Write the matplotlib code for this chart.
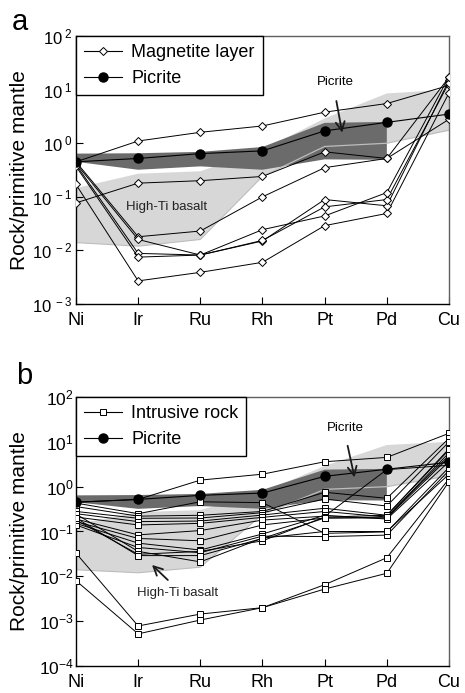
import numpy as np
import matplotlib
matplotlib.use('Agg')
import matplotlib.pyplot as plt
from matplotlib.ticker import FixedLocator, FuncFormatter, NullLocator
from matplotlib.lines import Line2D

plt.rcParams['font.family'] = ['Liberation Sans', 'DejaVu Sans']
plt.rcParams['mathtext.fontset'] = 'custom'
plt.rcParams['mathtext.rm'] = 'Liberation Sans'
plt.rcParams['mathtext.it'] = 'Liberation Sans'
plt.rcParams['axes.unicode_minus'] = False

elements = ['Ni', 'Ir', 'Ru', 'Rh', 'Pt', 'Pd', 'Cu']

# Picrite average (same in both panels)
picrite = [0.45, 0.52, 0.64, 0.72, 1.7, 2.45, 3.5]

# Picrite field (dark band, Ni..Pd)
picrite_hi = [0.64, 0.65, 0.69, 0.85, 2.4, 2.5]
picrite_lo = [0.45, 0.32, 0.37, 0.32, 0.5, 0.49]

# High-Ti basalt field (light band)
basalt_hi = [0.145, 0.27, 0.3, 0.75, 2.9, 8.5, 10.0]
basalt_lo = [0.014, 0.012, 0.016, 0.24, 0.87, 1.0, 1.75]

# Magnetite layer samples
magnetite = [
    [0.45, 1.1, 1.6, 2.1, 3.8, 5.5, 12.0],
    [0.077, 0.18, 0.2, 0.24, 0.69, 0.52, 2.8],
    [0.45, 0.018, 0.023, 0.1, 0.35, 0.52, 17.0],
    [0.17, 0.0027, 0.0039, 0.006, 0.029, 0.049, 8.7],
    [0.42, 0.016, 0.0082, 0.015, 0.089, 0.068, 15.0],
    [0.40, 0.0088, 0.0082, 0.0154, 0.065, 0.089, 13.5],
    [0.37, 0.0075, 0.0082, 0.0244, 0.044, 0.12, 17.5],
]

# Intrusive rock samples
intrusive = [
    [0.45, 0.52, 1.4, 1.9, 3.6, 4.5, 15.5],
    [0.43, 0.25, 0.46, 0.44, 0.091, 0.098, 2.7],
    [0.36, 0.22, 0.23, 0.28, 0.75, 0.55, 12.0],
    [0.28, 0.197, 0.2, 0.263, 0.53, 0.37, 10.0],
    [0.25, 0.166, 0.171, 0.233, 0.33, 0.23, 6.6],
    [0.21, 0.14, 0.152, 0.207, 0.28, 0.21, 5.7],
    [0.19, 0.084, 0.105, 0.18, 0.22, 2.4, 3.0],
    [0.166, 0.07, 0.062, 0.14, 0.2, 0.2, 4.5],
    [0.152, 0.055, 0.0386, 0.088, 0.23, 0.19, 3.6],
    [0.14, 0.044, 0.0336, 0.079, 0.077, 0.083, 2.3],
    [0.245, 0.036, 0.021, 0.071, 0.1, 0.1, 1.9],
    [0.18, 0.031, 0.036, 0.062, 0.21, 0.23, 7.0],
    [0.2, 0.029, 0.029, 0.07, 0.2, 0.21, 5.0],
    [0.033, 0.00078, 0.00144, 0.002, 0.0065, 0.026, 1.5],
    [0.008, 0.00052, 0.00106, 0.002, 0.0052, 0.0117, 1.3],
]

x = np.arange(len(elements))

fig = plt.figure(figsize=(4.65, 6.93), dpi=100)
ax_a = fig.add_axes([0.1634, 0.5613, 0.8022, 0.3867])
ax_b = fig.add_axes([0.1634, 0.0390, 0.8022, 0.3881])


def draw_fields(ax):
    # high-Ti basalt field
    ax.fill(np.r_[x, x[::-1]], np.r_[basalt_hi, basalt_lo[::-1]],
            color='#d7d7d7', lw=0, zorder=1)
    # picrite field
    xp = x[:6]
    ax.fill(np.r_[xp, xp[::-1]], np.r_[picrite_hi, picrite_lo[::-1]],
            color='#6b6b6b', lw=0, zorder=2)
    # lower edge of the basalt field shows through the dark band
    ax.plot(x[3:], basalt_lo[3:], color='#bdbdbd', lw=0.9, zorder=2.5)
    ax.plot(x[:4], basalt_lo[:4], color='#bdbdbd', lw=0.8, zorder=1.5)


def style_axes(ax, ymin, spaced):
    ax.set_yscale('log')
    ax.set_xlim(0, 6)
    ax.set_ylim(10.0 ** ymin, 100)
    ax.set_xticks(x)
    ax.set_xticklabels(elements, fontsize=13)
    decades = [10.0 ** k for k in range(ymin, 3)]
    ax.yaxis.set_major_locator(FixedLocator(decades))
    ax.yaxis.set_minor_locator(NullLocator())
    if spaced:
        fmt = lambda v, p: r'$\mathregular{10^{\ %d}}$' % round(np.log10(v))
        ysize, ypad = 12, 2.5
    else:
        fmt = lambda v, p: r'$\mathregular{10^{%d}}$' % round(np.log10(v))
        ysize, ypad = 12.5, 1.5
    ax.yaxis.set_major_formatter(FuncFormatter(fmt))
    ax.tick_params(axis='y', direction='in', length=5, width=0.8,
                   labelsize=ysize, pad=ypad)
    ax.tick_params(axis='x', direction='in', length=5, width=0.8, pad=6)
    ax.set_ylabel('Rock/primitive mantle', fontsize=15)
    ax.yaxis.set_label_coords(-0.127, 0.5)
    for s in ['left', 'bottom']:
        ax.spines[s].set_color('black')
        ax.spines[s].set_linewidth(1.0)
    for s in ['top', 'right']:
        ax.spines[s].set_color('#606060')
        ax.spines[s].set_linewidth(1.0)


def draw_picrite(ax):
    ax.plot(x, picrite, color='black', lw=0.8, marker='o', ms=6.5,
            mfc='black', mec='black', zorder=5)


def add_legend(ax, handles, labels):
    leg = ax.legend(handles, labels, loc='upper left', fontsize=13,
                    borderaxespad=0, handlelength=2.1, handletextpad=0.5,
                    labelspacing=0.5, borderpad=0.45, fancybox=False,
                    framealpha=1, edgecolor='black')
    leg.get_frame().set_linewidth(1.0)
    leg.set_zorder(10)


# ---- panel a: magnetite layer ----
draw_fields(ax_a)
for s in magnetite:
    ax_a.plot(x, s, color='black', lw=0.7, marker='D', ms=4.5,
              mfc='white', mec='black', mew=0.7, zorder=4)
draw_picrite(ax_a)
style_axes(ax_a, -3, True)

ax_a.text(4.17, 13.8, 'Picrite', fontsize=9.5, ha='center', va='center')
ax_a.annotate('', xy=(4.29, 1.4), xytext=(4.18, 6.9),
              arrowprops=dict(arrowstyle='->', lw=1.3, mutation_scale=16,
                              color='#1a1a1a'), zorder=6)
ax_a.text(1.45, 0.064, 'High-Ti basalt', fontsize=9.5, ha='center',
          va='center', color='#222222', zorder=3)

h_mag = Line2D([], [], color='black', lw=0.8, marker='D', ms=4.5,
               mfc='white', mec='black', mew=0.7)
h_pic = Line2D([], [], color='black', lw=0.8, marker='o', ms=6.5,
               mfc='black', mec='black')
add_legend(ax_a, [h_mag, h_pic], ['Magnetite layer', 'Picrite'])

# ---- panel b: intrusive rock ----
draw_fields(ax_b)
for s in intrusive:
    ax_b.plot(x, s, color='black', lw=0.7, marker='s', ms=4.5,
              mfc='white', mec='black', mew=0.7, zorder=4)
draw_picrite(ax_b)
style_axes(ax_b, -4, False)

ax_b.text(4.33, 20.4, 'Picrite', fontsize=9.5, ha='center', va='center')
ax_b.annotate('', xy=(4.49, 1.4), xytext=(4.36, 9.4),
              arrowprops=dict(arrowstyle='->', lw=1.3, mutation_scale=16,
                              color='#1a1a1a'), zorder=6)
ax_b.text(1.64, 0.0042, 'High-Ti basalt', fontsize=9.5, ha='center',
          va='center', color='#222222')
ax_b.annotate('', xy=(1.19, 0.0198), xytext=(1.51, 0.0075),
              arrowprops=dict(arrowstyle='->', lw=1.3, mutation_scale=16,
                              color='#1a1a1a'), zorder=6)

h_int = Line2D([], [], color='black', lw=0.8, marker='s', ms=4.5,
               mfc='white', mec='black', mew=0.7)
add_legend(ax_b, [h_int, h_pic], ['Intrusive rock', 'Picrite'])

fig.text(0.042, 0.968, 'a', fontsize=21, ha='center', va='center')
fig.text(0.052, 0.458, 'b', fontsize=21, ha='center', va='center')

fig.savefig('out.png', dpi=100)
